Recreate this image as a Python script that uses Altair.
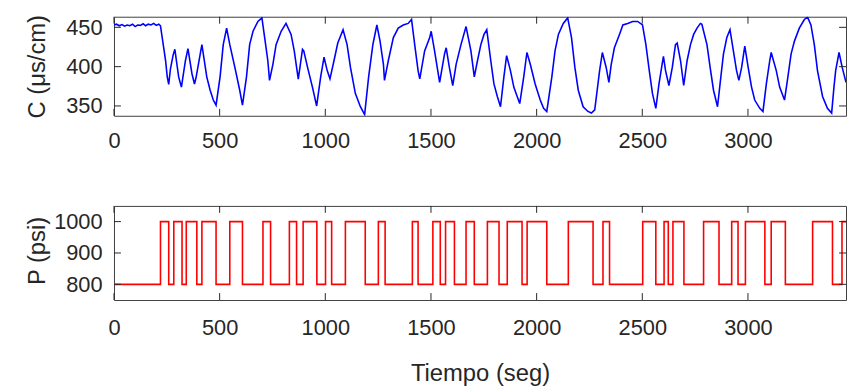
import altair as alt
import pandas as pd

# ---- Conductivity series: time (s) and C (uS/cm) ----
t_c = [0, 12, 25, 38, 50, 62, 75, 88, 100, 112, 125, 138, 150, 162, 175, 188, 200, 212, 220,
       244, 252, 259, 267, 280, 288, 306, 319, 338, 350, 369, 381, 389, 408, 416, 439, 455, 470, 483,
       502, 517, 533, 548, 572, 595, 608, 627, 642, 658, 681, 700, 713, 728, 736, 752, 767, 791, 814,
       838, 853, 872, 892, 898, 916, 939, 959, 978, 994, 1009, 1022, 1041, 1059, 1084, 1103, 1119,
       1142, 1166, 1186, 1205, 1225, 1244, 1259, 1275, 1280, 1298, 1322, 1345, 1369, 1392, 1408,
       1423, 1439, 1447, 1470, 1494, 1501, 1517, 1541, 1564, 1572, 1587, 1603, 1619, 1642, 1666,
       1689, 1705, 1720, 1736, 1751, 1764, 1783, 1798, 1814, 1829, 1845, 1858, 1876, 1892, 1908,
       1920, 1939, 1954, 1970, 1993, 2017, 2033, 2048, 2072, 2087, 2103, 2126, 2147, 2165, 2181,
       2197, 2220, 2243, 2259, 2275, 2298, 2311, 2329, 2342, 2353, 2368, 2392, 2408, 2431, 2454,
       2478, 2501, 2517, 2533, 2548, 2564, 2579, 2592, 2600, 2610, 2626, 2642, 2657, 2665, 2681,
       2696, 2712, 2728, 2743, 2759, 2775, 2782, 2806, 2821, 2837, 2856, 2868, 2884, 2900, 2915,
       2931, 2946, 2957, 2970, 2985, 3001, 3017, 3032, 3056, 3071, 3087, 3103, 3110, 3134, 3150,
       3173, 3189, 3204, 3220, 3243, 3267, 3282, 3298, 3314, 3329, 3353, 3376, 3396, 3407, 3415,
       3431, 3446, 3464]
c_vals = [453, 454, 452, 453.5, 451.5, 453, 452, 454, 451, 453, 452.5, 454.5, 452, 454, 453, 455, 452.5, 454, 452,
          408, 387, 377.5, 397, 415, 422, 387, 374, 407.5, 423, 391, 378, 387, 416, 428, 387, 370, 357.5, 351,
          387, 428, 449, 428, 399, 370, 351, 387, 428, 445, 457.5, 462, 437, 407.5, 382.5, 403, 428, 445, 455,
          441, 420, 384, 422, 420, 399, 374, 350, 387, 412, 395, 384.5, 407.5, 430, 447, 428, 399,
          366, 349, 339, 387, 428, 453, 432.5, 403, 382.5, 407.5, 437, 449, 453, 455, 460,
          428, 395, 384.5, 420, 437, 445, 420, 380, 416, 424, 399, 376, 403, 428, 451,
          420, 387, 407.5, 428, 441, 447, 407.5, 378, 362, 349, 387, 414, 395, 374, 362,
          353, 387, 418, 403, 378, 357.5, 347, 343, 387, 420, 441, 455, 462, 437, 399,
          370, 349, 343, 341, 345, 395, 418, 399, 380, 403, 424, 441, 453, 455, 457.5,
          457.5, 453, 428, 395, 366, 347, 378, 400, 413, 395, 376, 399, 428, 430, 407.5,
          376, 407.5, 428, 441, 449, 455, 454, 428, 399, 370, 349, 378, 416, 437, 447,
          420, 395, 382.5, 399, 426, 399, 374, 357.5, 347, 343, 378, 407.5, 418, 395, 374,
          357.5, 387, 416, 432.5, 449, 460, 463, 453, 428, 395, 362, 347, 341, 374, 395,
          418, 399, 380]

# ---- Pressure steps: switching time (s) and level after the switch (psi) ----
t_p = [0, 220, 259, 283, 322, 342, 392, 416, 483, 548, 608, 705, 741, 830, 864, 895, 960, 1001,
       1030, 1095, 1189, 1251, 1283, 1412, 1439, 1509, 1544, 1569, 1611, 1666, 1705, 1767, 1822,
       1861, 1931, 1955, 2048, 2150, 2267, 2314, 2345, 2502, 2564, 2603, 2623, 2645, 2697, 2790,
       2863, 2923, 2953, 2988, 3080, 3110, 3177, 3306, 3400, 3445, 3464]
p_vals = [800, 1000, 800, 1000, 800, 1000, 800, 1000, 800, 1000, 800, 1000, 800, 1000, 800, 1000, 800, 1000,
          800, 1000, 800, 1000, 800, 1000, 800, 1000, 800, 1000, 800, 1000, 800, 1000, 800,
          1000, 800, 1000, 800, 1000, 800, 1000, 800, 1000, 800, 1000, 800, 1000, 800, 1000,
          800, 1000, 800, 1000, 800, 1000, 800, 1000, 800, 1000, 1000]

x_ticks = [0, 500, 1000, 1500, 2000, 2500, 3000]
c_ticks = [350, 400, 450]
p_ticks = [800, 900, 1000]

X_MAX = 3464
C_DOMAIN = [337.5, 463.5]
P_DOMAIN = [750, 1050]

W = 739
H1 = 100
H2 = 95
TICK = 7
FONT = "Liberation Sans"
AXC = "#262626"

df_c = pd.DataFrame({"t": t_c, "v": c_vals})
df_p = pd.DataFrame({"t": t_p, "v": p_vals})


def panel(df, ydomain, yticks, color, height, ytitle, title_y, xtitle, interp, xlab_pad):
    xs = alt.Scale(domain=[0, X_MAX], nice=False, zero=False)
    ys = alt.Scale(domain=ydomain, nice=False, zero=False)
    xaxis_kw = dict(values=x_ticks, format="d", labelPadding=xlab_pad, labelFlush=False,
                    domain=False, ticks=False, grid=False,
                    labelFont=FONT, labelFontSize=22, labelColor=AXC)
    if xtitle:
        xaxis = alt.Axis(title=xtitle, titleY=74, titleBaseline="middle",
                         titleFont=FONT, titleFontSize=24, titleColor=AXC, titleFontWeight="normal",
                         **xaxis_kw)
    else:
        xaxis = alt.Axis(title=None, **xaxis_kw)
    yaxis = alt.Axis(values=yticks, format="d", title=ytitle, labelPadding=12,
                     domain=False, ticks=False, grid=False,
                     labelFont=FONT, labelFontSize=22, labelColor=AXC,
                     titleFont=FONT, titleFontSize=24, titleColor=AXC, titleFontWeight="normal",
                     titleX=-77, titleY=title_y, titleBaseline="middle", titleAngle=270)
    X = alt.X("t:Q", scale=xs, axis=xaxis)
    Y = alt.Y("v:Q", scale=ys, axis=yaxis)
    line = alt.Chart(df).mark_line(color=color, strokeWidth=1.6, interpolate=interp, clip=True).encode(
        x=X, y=Y)
    xt = pd.DataFrame({"t": x_ticks})
    yt = pd.DataFrame({"v": yticks})
    rule = dict(color=AXC, strokeWidth=1)
    bt = alt.Chart(xt).mark_rule(**rule).encode(x=X, y=alt.value(height), y2=alt.value(height - TICK))
    tt = alt.Chart(xt).mark_rule(**rule).encode(x=X, y=alt.value(0), y2=alt.value(TICK))
    lt = alt.Chart(yt).mark_rule(**rule).encode(y=Y, x=alt.value(0), x2=alt.value(TICK))
    rt = alt.Chart(yt).mark_rule(**rule).encode(y=Y, x=alt.value(W - TICK), x2=alt.value(W))
    return alt.layer(line, bt, tt, lt, rt).properties(
        width=W, height=height,
        view=alt.ViewBackground(stroke="#404040", strokeWidth=1, fill="white"))


top = panel(df_c, C_DOMAIN, c_ticks, "#0000ff", H1, "C (μs/cm)", 50, None, "linear", 15)
bottom = panel(df_p, P_DOMAIN, p_ticks, "#ff0000", H2, "P (psi)", 45, "Tiempo (seg)", "step-after", 18)

chart = alt.vconcat(top, bottom, spacing=91, bounds="flush").properties(
    padding={"left": 17, "top": 4, "right": 0, "bottom": 0},
    background="white",
)

chart.save("out.html", embed_options={"renderer": "svg", "actions": False})
